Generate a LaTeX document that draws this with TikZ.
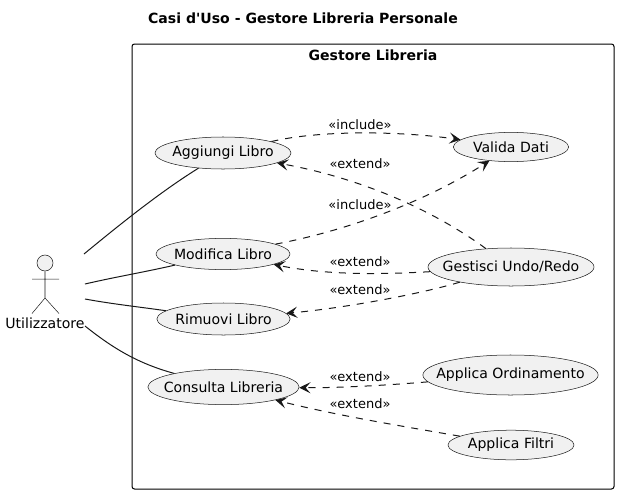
\documentclass[tikz,border=0pt]{standalone}
\usepackage{fontspec}
\setmainfont{DejaVu Sans}
\usetikzlibrary{shapes.geometric,arrows.meta}
\definecolor{usecasefill}{HTML}{F1F1F1}
\definecolor{umlline}{HTML}{181818}
\tikzset{
    usecase/.style={ellipse,draw=umlline,line width=.36pt,fill=usecasefill,inner sep=0pt},
    every label/.style={inner sep=0pt,font=\fontsize{10}{12}\selectfont},
    actorline/.style={draw=umlline,line width=.36pt},
    assoc/.style={draw=umlline,line width=.71pt},
    dep/.style={draw=umlline,line width=.71pt,dash pattern=on 5pt off 5pt,-{Stealth[length=8pt,width=8pt,inset=3.5pt]}},
    deplabel/.style={inner sep=0pt,font=\fontsize{9.25}{11}\selectfont},
    titlelabel/.style={inner sep=0pt,font=\fontsize{10}{12}\selectfont\bfseries}
}
\begin{document}
\begin{tikzpicture}[x=.025cm,y=-.025cm]
    \useasboundingbox (0,0) rectangle (619,494);
    % titolo e riquadro
    \node[titlelabel] (title) at(303,18) {Casi d\textquotesingle Uso - Gestore Libreria Personale};
    \draw[black,line width=.71pt,rounded corners=1.8pt] (132,44) rectangle (614,489);
    \node[titlelabel] (boxtitle) at(373,55) {Gestore Libreria};
    % attore
    \node[circle,actorline,fill=usecasefill,minimum size=.4cm,inner sep=0pt] (userhead) at(45,263) {};
    \coordinate (userhip) at(45,298);
    \coordinate (userarml) at(32,279);
    \coordinate (userarmr) at(59,279);
    \coordinate (userlegl) at(32,313.5);
    \coordinate (userlegr) at(59,313.5);
    \draw[actorline] (userhead)--(userhip) (userarml)--(userarmr) (userlegl)--(userhip)--(userlegr);
    \node[inner sep=0pt,font=\fontsize{10}{12}\selectfont] (user) at(45,323) {Utilizzatore};
    % casi d'uso
    \node[usecase,minimum width=3.4cm,minimum height=.8cm,label=center:{Aggiungi Libro}] (addbook) at(223,153) {};
    \node[usecase,minimum width=3.35cm,minimum height=.78cm,label=center:{Modifica Libro}] (editbook) at(223,254) {};
    \node[usecase,minimum width=3.33cm,minimum height=.8cm,label=center:{Rimuovi Libro}] (delbook) at(223.5,319) {};
    \node[usecase,minimum width=3.78cm,minimum height=.88cm,label=center:{Consulta Libreria}] (browse) at(223.5,387) {};
    \node[usecase,minimum width=2.88cm,minimum height=.73cm,label=center:{Valida Dati}] (validate) at(511,147) {};
    \node[usecase,minimum width=4.15cm,minimum height=.95cm,label=center:{Gestisci Undo/Redo}] (undoredo) at(511,267) {};
    \node[usecase,minimum width=4.38cm,minimum height=1cm,label=center:{Applica Ordinamento}] (sorting) at(510.5,375) {};
    \node[usecase,minimum width=3.15cm,minimum height=.74cm,label=center:{Applica Filtri}] (filters) at(511,445) {};
    % associazioni
    \coordinate (usera) at(84,254);
    \coordinate (userb) at(85,284);
    \coordinate (userc) at(85,299);
    \coordinate (userd) at(85,326);
    \draw[assoc] (usera) .. controls (118,226) and (160,192) .. (addbook);
    \draw[assoc] (userb) .. controls (115,277) and (145,272) .. (editbook);
    \draw[assoc] (userc) .. controls (112,304) and (140,307) .. (delbook);
    \draw[assoc] (userd) .. controls (115,350) and (140,364) .. (browse);
    % dipendenze
    \draw[dep] (addbook) .. controls (320,130) and (400,131) .. (validate);
    \draw[dep] (undoredo) .. controls (440,215) and (370,180) .. (addbook);
    \draw[dep] (editbook) .. controls (340,232) and (420,205) .. (validate);
    \draw[dep] (undoredo) .. controls (390,274) and (330,276) .. (editbook);
    \draw[dep] (undoredo) .. controls (420,294) and (345,308) .. (delbook);
    \draw[dep] (sorting) .. controls (390,385) and (340,388) .. (browse);
    \draw[dep] (filters) .. controls (395,425) and (335,415) .. (browse);
    % etichette
    \node[deplabel] (incl1) at(360,125) {«include»};
    \node[deplabel] (ext1) at(360,163.5) {«extend»};
    \node[deplabel] (incl2) at(360,204.5) {«include»};
    \node[deplabel] (ext2) at(360,261.5) {«extend»};
    \node[deplabel] (ext3) at(360,290) {«extend»};
    \node[deplabel] (ext4) at(360,376.5) {«extend»};
    \node[deplabel] (ext5) at(360,404) {«extend»};
\end{tikzpicture}
\end{document}
